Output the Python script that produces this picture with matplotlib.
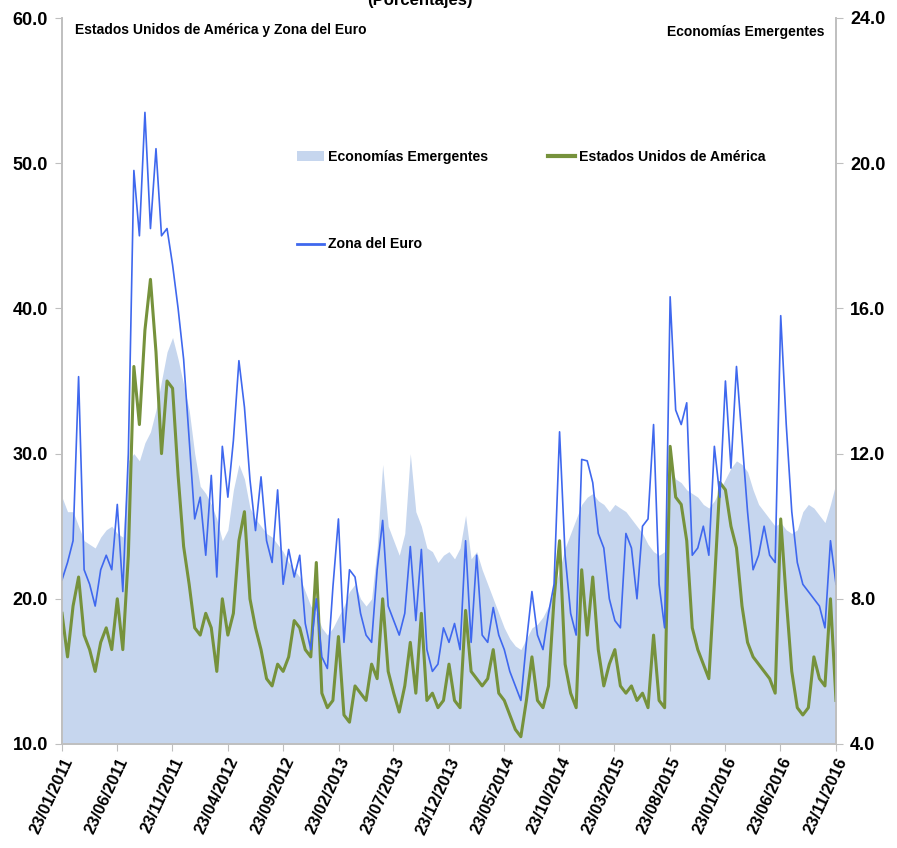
import numpy as np
import pandas as pd
import matplotlib
matplotlib.use("Agg")
import matplotlib.pyplot as plt
import matplotlib.dates as mdates
from matplotlib.patches import Patch
from matplotlib.lines import Line2D

plt.rcParams['font.family'] = ['Liberation Sans Narrow', 'Liberation Sans', 'DejaVu Sans']
plt.rcParams['font.weight'] = 'bold'

# --------------------------- data ---------------------------
# semi-monthly samples, 23/01/2011 .. 23/11/2016
start, end = "2011-01-23", "2016-11-23"

zona_euro = [
    21.3, 22.5, 24.0, 35.3, 22.0, 21.0, 19.5, 22.0, 23.0, 22.0,
    26.5, 20.5, 30.0, 49.5, 45.0, 53.5, 45.5, 51.0, 45.0, 45.5,
    43.0, 40.0, 36.5, 31.0, 25.5, 27.0, 23.0, 28.5, 21.5, 30.5,
    27.0, 30.9, 36.4, 33.2, 28.2, 24.7, 28.4, 24.0, 22.5, 27.5,
    21.0, 23.4, 21.5, 23.0, 18.3, 16.5, 20.0, 16.0, 15.2, 20.8,
    25.5, 17.0, 22.0, 21.5, 19.0, 17.5, 17.0, 22.0, 25.4, 19.5,
    18.5, 17.5, 19.0, 23.6, 18.5, 23.4, 16.5, 15.0, 15.5, 18.0,
    17.0, 18.3, 16.5, 24.0, 17.0, 23.0, 17.5, 17.0, 19.4, 17.5,
    16.5, 15.0, 14.0, 13.0, 17.0, 20.5, 17.5, 16.5, 19.0, 21.0,
    31.5, 23.0, 19.0, 17.5, 29.6, 29.5, 28.0, 24.5, 23.5, 20.0,
    18.5, 18.0, 24.5, 23.5, 20.0, 25.0, 25.5, 32.0, 21.0, 18.0,
    40.8, 33.0, 32.0, 33.5, 23.0, 23.5, 25.0, 23.0, 30.5, 27.0,
    35.0, 29.0, 36.0, 31.0, 26.0, 22.0, 23.0, 25.0, 23.0, 22.5,
    39.5, 32.0, 26.0, 22.5, 21.0, 20.5, 20.0, 19.5, 18.0, 24.0,
    21.0,
]

eeuu = [
    19.0, 16.0, 19.5, 21.5, 17.5, 16.5, 15.0, 17.0, 18.0, 16.5,
    20.0, 16.5, 23.0, 36.0, 32.0, 38.5, 42.0, 37.0, 30.0, 35.0,
    34.5, 28.5, 23.6, 21.0, 18.0, 17.5, 19.0, 18.0, 15.0, 20.0,
    17.5, 19.0, 24.0, 26.0, 20.0, 18.0, 16.5, 14.5, 14.0, 15.5,
    15.0, 16.0, 18.5, 18.0, 16.5, 16.0, 22.5, 13.5, 12.5, 13.0,
    17.4, 12.0, 11.5, 14.0, 13.5, 13.0, 15.5, 14.5, 20.0, 15.0,
    13.5, 12.2, 14.0, 17.0, 13.5, 19.0, 13.0, 13.5, 12.5, 13.0,
    15.5, 13.0, 12.5, 19.2, 15.0, 14.5, 14.0, 14.5, 16.5, 13.5,
    13.0, 12.0, 11.0, 10.5, 13.0, 16.0, 13.0, 12.5, 14.0, 20.0,
    24.0, 15.5, 13.5, 12.5, 22.0, 17.5, 21.5, 16.5, 14.0, 15.5,
    16.5, 14.0, 13.5, 14.0, 13.0, 13.5, 12.5, 17.5, 13.0, 12.5,
    30.5, 27.0, 26.5, 24.0, 18.0, 16.5, 15.5, 14.5, 21.0, 28.0,
    27.5, 25.0, 23.5, 19.5, 17.0, 16.0, 15.5, 15.0, 14.5, 13.5,
    25.5, 20.0, 15.0, 12.5, 12.0, 12.5, 16.0, 14.5, 14.0, 20.0,
    13.0,
]

emergentes = [
    10.8, 10.4, 10.4, 10.0, 9.6, 9.5, 9.4, 9.7, 9.9, 10.0,
    9.8, 9.7, 11.8, 12.0, 11.8, 12.3, 12.6, 13.2, 14.0, 14.8,
    15.2, 14.6, 13.9, 13.2, 12.0, 11.1, 10.9, 10.6, 10.2, 9.6,
    9.9, 11.0, 11.7, 11.3, 10.5, 10.2, 10.0, 9.8, 9.7, 9.5,
    9.3, 9.0, 8.8, 8.6, 8.2, 7.8, 7.6, 7.2, 7.0, 7.2,
    7.5, 7.8, 8.2, 8.4, 8.0, 7.8, 8.0, 9.4, 11.7, 10.0,
    9.6, 9.2, 9.8, 12.0, 10.4, 10.0, 9.4, 9.3, 9.0, 9.2,
    9.3, 9.1, 9.4, 10.3, 9.1, 9.3, 8.8, 8.4, 8.0, 7.6,
    7.2, 6.9, 6.7, 6.6, 6.9, 7.2, 7.3, 7.5, 7.8, 8.2,
    8.8, 9.4, 9.8, 10.2, 10.6, 10.8, 10.9, 10.7, 10.6, 10.4,
    10.6, 10.5, 10.4, 10.2, 10.0, 9.8, 9.5, 9.3, 9.2, 9.3,
    11.6, 11.3, 11.2, 11.0, 10.9, 10.8, 10.6, 10.5, 10.7, 11.0,
    11.3, 11.6, 11.8, 11.7, 11.5, 11.0, 10.6, 10.4, 10.2, 10.0,
    10.1, 9.9, 9.8, 9.9, 10.4, 10.6, 10.5, 10.3, 10.1, 10.6,
    11.2,
]

tick_dates = ["23/01/2011", "23/06/2011", "23/11/2011", "23/04/2012", "23/09/2012",
              "23/02/2013", "23/07/2013", "23/12/2013", "23/05/2014", "23/10/2014",
              "23/03/2015", "23/08/2015", "23/01/2016", "23/06/2016", "23/11/2016"]

left_ticks = [10, 20, 30, 40, 50, 60]
right_ticks = [4, 8, 12, 16, 20, 24]

# --------------------------- figure ---------------------------
dates = pd.date_range(start, end, periods=len(zona_euro))
ticks = pd.to_datetime(tick_dates, format="%d/%m/%Y")

c_area = "#C6D6EE"
c_euro = "#3F68EE"
c_us = "#76923C"
c_spine = "#BFBFBF"

fig = plt.figure(figsize=(8.97, 8.48), dpi=100)
ax = fig.add_axes([62 / 897, 1 - 744 / 848, (836 - 62) / 897, (744 - 18) / 848])
ax2 = ax.twinx()

ax2.fill_between(dates, 4, emergentes, color=c_area, lw=0)
ax.plot(dates, eeuu, color=c_us, lw=2.2)
ax.plot(dates, zona_euro, color=c_euro, lw=1.2)

# area behind the lines
ax.set_zorder(ax2.get_zorder() + 1)
ax.patch.set_visible(False)

ax.set_xlim(ticks[0], ticks[-1])
ax.set_ylim(10, 60)
ax2.set_ylim(4, 24)
ax.set_yticks(left_ticks)
ax.set_yticklabels([f"{v:.1f}" for v in left_ticks])
ax2.set_yticks(right_ticks)
ax2.set_yticklabels([f"{v:.1f}" for v in right_ticks])
ax.set_xticks(ticks)
ax.set_xticklabels(tick_dates, rotation=65, ha="right", rotation_mode="anchor")

for a in (ax, ax2):
    a.spines["top"].set_visible(False)
    for s in ("left", "right", "bottom"):
        a.spines[s].set_color(c_spine)
        a.spines[s].set_linewidth(1.2)
ax.tick_params(axis="y", labelsize=13, length=5, color=c_spine, pad=5)
ax2.tick_params(axis="y", labelsize=13, length=5, color=c_spine, pad=5)
ax.tick_params(axis="x", labelsize=12, length=5, color=c_spine, pad=3)

for lbl in ax.get_xticklabels() + ax.get_yticklabels() + ax2.get_yticklabels():
    lbl.set_fontweight("bold")

ax.text(0.017, 0.993, "Estados Unidos de América y Zona del Euro", transform=ax.transAxes,
        fontsize=10, fontweight="bold", va="top", ha="left")
ax.text(0.985, 0.99, "Economías Emergentes", transform=ax.transAxes,
        fontsize=10, fontweight="bold", va="top", ha="right")
fig.text(0.468, 1.0, "(Porcentajes)", fontsize=12, fontweight="bold", ha="center", va="center")

handles = [Patch(facecolor=c_area, edgecolor="none"),
           Line2D([], [], color=c_euro, lw=2),
           Line2D([], [], color=c_us, lw=3)]
labels = ["Economías Emergentes", "Zona del Euro", "Estados Unidos de América"]
ax.legend(handles, labels, loc="upper left", bbox_to_anchor=(0.287, 0.836), ncol=2,
          frameon=False, prop={"size": 10.2, "weight": "bold"}, handlelength=1.9,
          handletextpad=0.3, labelspacing=5.2, columnspacing=4.2)

fig.savefig("out.png", dpi=100)
